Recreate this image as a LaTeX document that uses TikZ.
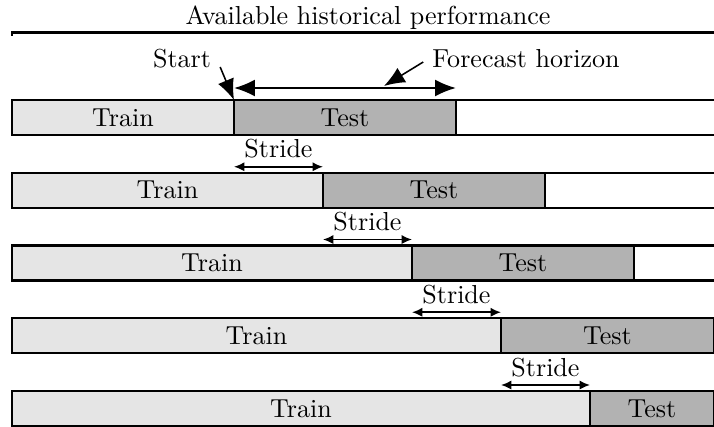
\documentclass[tikz,border=0pt]{standalone}
\usetikzlibrary{arrows.meta}

\tikzset{
  trainbar/.style={draw=black,thick,fill=black!10},
  testbar/.style={draw=black,thick,fill=black!30},
  restbar/.style={draw=black,thick,fill=white},
  bigtip/.style={-{Latex[length=8pt,width=6.5pt]},semithick},
  bigboth/.style={{Latex[length=8pt,width=6.5pt]}-{Latex[length=8pt,width=6.5pt]},thick},
  stridearrow/.style={{Latex[length=4pt,width=3.5pt]}-{Latex[length=4pt,width=3.5pt]},semithick}
}

\begin{document}
\begin{tikzpicture}[x=0.0135cm,y=-0.0135cm]
\useasboundingbox (0,0) rectangle (714,427);
% heading over the whole history
\node[anchor=base] (title) at (368,24) {Available historical performance};
\draw[thick] (12,35.5) -- (12,32.5) -- (780,32.5);
% one row per fold
\foreach \k in {0,...,4}{
  \pgfmathsetmacro{\s}{234+89*\k}
  \pgfmathsetmacro{\t}{100+72.75*\k}
  \pgfmathsetmacro{\b}{\t+35}
  \pgfmathsetmacro{\e}{min(\s+222,714)}
  \draw[trainbar] (12,\t) rectangle (\s,\b);
  \draw[testbar] (\s,\t) rectangle (\e,\b);
  \draw[restbar] (\e,\t) rectangle (780,\b);
  \node (train\k) at ({(12+\s)/2},{\t+17.5}) {Train};
  \node (test\k) at ({(\s+\e)/2},{\t+17.5}) {Test};
  \coordinate (cut\k) at (\s,\t);
  \ifnum\k>0
    \coordinate (sl\k) at (\s-89,\t-6);
    \coordinate (sr\k) at (\s,\t-6);
    \draw[stridearrow] (sl\k) -- (sr\k);
    \node[anchor=base] (stride\k) at (\s-44.5,\t-15) {Stride};
  \fi
}
% first fold: start and horizon
\coordinate (hl) at (234,88);
\coordinate (hr) at (456,88);
\draw[bigboth] (hl) -- (hr);
\node[anchor=base] (start) at (182,67) {Start};
\draw[bigtip] (start.base east) -- (cut0);
\node[anchor=base] (horizon) at (526,67) {Forecast horizon};
\coordinate (htip) at (384,86);
\draw[bigtip] ([yshift=-1.5pt]horizon.west) -- (htip);
\end{tikzpicture}
\end{document}
